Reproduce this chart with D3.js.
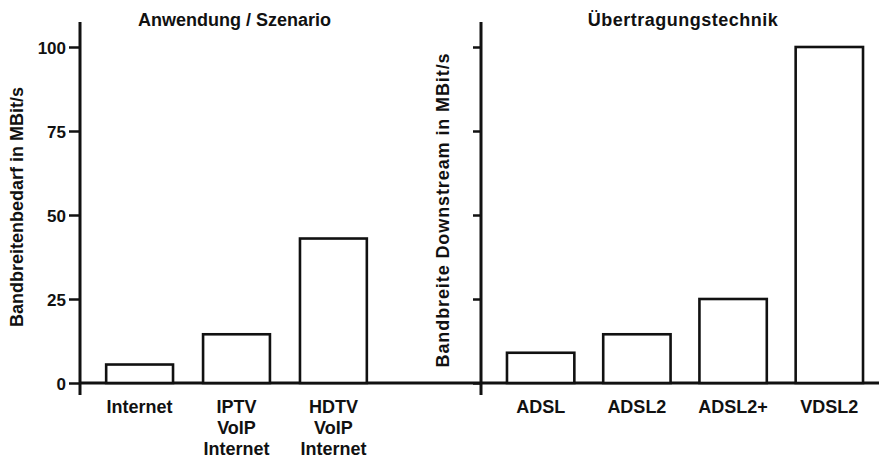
<!DOCTYPE html>
<html><head><meta charset="utf-8">
<script src="https://cdn.jsdelivr.net/npm/d3@7"></script>
<style>
html,body{margin:0;padding:0;background:#fff;}
text{font-family:"Liberation Sans",Arial,Helvetica,sans-serif;font-weight:bold;fill:#111;}
</style></head>
<body>
<svg id="chart" width="879" height="458"></svg>
<script>
// ---- data ----
const leftTitle = "Anwendung / Szenario";
const rightTitle = "Übertragungstechnik";
const leftAxisTitle = "Bandbreitenbedarf in MBit/s";
const rightAxisTitle = "Bandbreite Downstream in MBit/s";
const leftCategories = [["Internet"], ["IPTV", "VoIP", "Internet"], ["HDTV", "VoIP", "Internet"]];
const leftValues = [5.5, 14.5, 43];
const rightCategories = [["ADSL"], ["ADSL2"], ["ADSL2+"], ["VDSL2"]];
const rightValues = [9, 14.5, 25, 100];
const yTicks = [0, 25, 50, 75, 100];

// ---- layout ----
const W = 879, H = 458;
const svg = d3.select("#chart");
const y = d3.scaleLinear().domain([0, 100]).range([383, 47]);

const xL = d3.scaleBand().domain(d3.range(leftCategories.length))
  .range([80, 393]).paddingInner(0.31).paddingOuter(0.27);
const xR = d3.scaleBand().domain(d3.range(rightCategories.length))
  .range([481, 889]).paddingInner(0.3).paddingOuter(0.27);

const ink = "#111";

// baseline (x axis) across both panels
svg.append("line").attr("x1", 80).attr("x2", W).attr("y1", y(0)).attr("y2", y(0))
  .attr("stroke", ink).attr("stroke-width", 3);

function panel(x, cats, vals, axisX, showLabels, title, titleSpacing, axisTitle, axisTitleX, axisTitleY, axisSpacing) {
  // bars
  svg.append("g").selectAll("rect").data(vals).join("rect")
    .attr("x", (d, i) => x(i)).attr("width", x.bandwidth())
    .attr("y", d => y(d)).attr("height", d => y(0) - y(d))
    .attr("fill", "#fff").attr("stroke", ink).attr("stroke-width", 2.6);

  // y axis
  const ax = d3.axisLeft(y).tickValues(yTicks).tickSize(showLabels ? 11 : 8).tickPadding(3)
    .tickFormat(showLabels ? d3.format("d") : () => "");
  const g = svg.append("g").attr("transform", `translate(${axisX},0)`).call(ax);
  g.select(".domain").remove();
  g.selectAll(".tick line").attr("stroke", ink).attr("stroke-width", 2.5);
  g.selectAll(".tick text").attr("font-size", 17).attr("fill", ink)
    .attr("font-family", "'Liberation Sans',Arial,sans-serif").attr("font-weight", "bold")
    .attr("dy", "0.36em");
  svg.append("line").attr("x1", axisX).attr("x2", axisX)
    .attr("y1", y(100) - 25).attr("y2", y(0) + 12)
    .attr("stroke", ink).attr("stroke-width", 3);

  // category labels
  const lg = svg.append("g");
  cats.forEach((lines, i) => {
    const t = lg.append("text").attr("text-anchor", "middle").attr("font-size", 18)
      .attr("x", x(i) + x.bandwidth() / 2).attr("y", 413);
    lines.forEach((s, j) => {
      t.append("tspan").attr("x", x(i) + x.bandwidth() / 2).attr("dy", j === 0 ? 0 : 21).text(s);
    });
  });

  // panel title
  const r = x.range();
  svg.append("text").attr("text-anchor", "middle").attr("font-size", 18)
    .attr("letter-spacing", titleSpacing)
    .attr("x", (r[0] + r[1]) / 2 - 2).attr("y", 26).text(title);

  // axis title
  svg.append("text").attr("text-anchor", "middle").attr("font-size", 18)
    .attr("letter-spacing", axisSpacing)
    .attr("transform", `translate(${axisTitleX},${axisTitleY}) rotate(-90)`)
    .text(axisTitle);
}

panel(xL, leftCategories, leftValues, 80, true, leftTitle, 0, leftAxisTitle, 23, 207, 0);
panel(xR, rightCategories, rightValues, 481, false, rightTitle, 0.5, rightAxisTitle, 449, 210, 0.9);
</script>
</body></html>
